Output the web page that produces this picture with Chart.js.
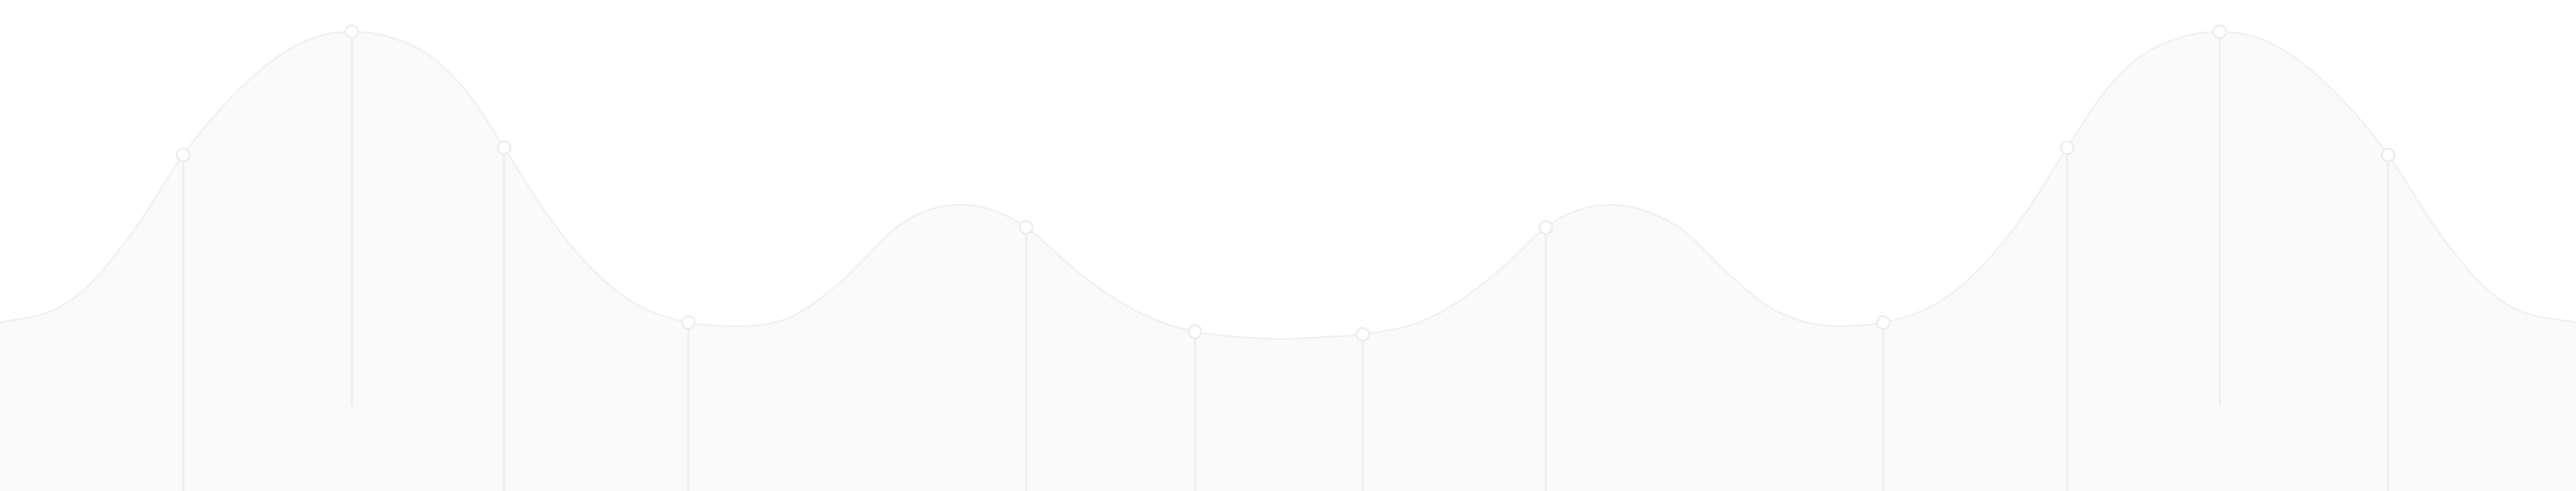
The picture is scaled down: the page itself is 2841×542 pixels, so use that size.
<!DOCTYPE html>
<html>
<head>
<meta charset="utf-8">
<script src="https://cdn.jsdelivr.net/npm/chart.js@4/dist/chart.umd.min.js"></script>
<style>
  html, body { margin: 0; padding: 0; background: #ffffff; }
  #wrap { width: 2841px; height: 542px; position: relative; }
</style>
</head>
<body>
<div id="wrap"><canvas id="waveChart"></canvas></div>
<script>
// x is % of width, y is % of height (no visible axes in the picture)
const curveX = [0, 2.11, 3.52, 5.28, 7.11, 8.80, 10.56, 12.14, 13.66, 15.14, 16.72, 18.20, 19.57,
  21.12, 22.88, 24.64, 26.72, 28.55, 30.62, 32.73, 34.88, 36.25, 37.45, 38.72, 39.84, 41.71,
  43.40, 45.12, 46.39, 48.05, 49.74, 51.39, 52.90, 55.09, 56.67, 58.43, 60.01, 61.25, 62.58,
  63.89, 65.33, 67.05, 68.74, 71.31, 73.11, 75.19, 76.94, 78.70, 80.25, 81.63, 83.10, 84.69,
  86.17, 87.68, 89.26, 91.02, 92.71, 94.54, 96.30, 97.71, 100];
const curveY = [34.32, 36.90, 42.25, 53.69, 68.45, 79.15, 87.64, 92.25, 93.54, 92.44, 88.56, 80.81, 69.93,
  57.20, 45.76, 38.19, 34.32, 33.58, 35.24, 42.99, 54.06, 57.56, 58.30, 56.83, 53.69, 45.20,
  38.75, 34.32, 32.47, 31.37, 31.00, 31.37, 31.92, 34.32, 38.75, 45.94, 53.69, 57.20, 58.30,
  57.01, 53.14, 44.46, 37.27, 33.58, 34.32, 38.19, 45.76, 57.20, 69.93, 80.81, 88.56, 92.44,
  93.54, 92.25, 87.64, 79.15, 68.45, 53.69, 42.25, 36.90, 34.32];

const markerX = [7.11, 13.66, 19.57, 26.72, 39.84, 46.39, 52.90, 60.01, 73.11, 80.25, 86.17, 92.71];
const markerY = [68.45, 93.54, 69.93, 34.32, 53.69, 32.47, 31.92, 53.69, 34.32, 69.93, 93.54, 68.45];

// how far each stem hangs below its marker
const stemDepth = 76.2;

new Chart(document.getElementById('waveChart'), {
  type: 'line',
  data: {
    datasets: [
      {
        type: 'line',
        order: 0,
        data: markerX.map((x, i) => ({ x: x, y: markerY[i] })),
        showLine: false,
        pointRadius: 7,
        pointBorderWidth: 2,
        pointBackgroundColor: '#ffffff',
        pointBorderColor: '#ededed'
      },
      {
        type: 'bar',
        order: 1,
        data: markerX.map((x, i) => ({ x: x, y: [markerY[i], markerY[i] - stemDepth] })),
        barThickness: 2,
        backgroundColor: '#f0f0f0',
        borderWidth: 0
      },
      {
        type: 'line',
        order: 2,
        data: curveX.map((x, i) => ({ x: x, y: curveY[i] })),
        cubicInterpolationMode: 'monotone',
        borderColor: '#f1f1f1',
        borderWidth: 2,
        backgroundColor: '#fafafa',
        fill: 'origin',
        pointRadius: 0
      }
    ]
  },
  options: {
    responsive: true,
    maintainAspectRatio: false,
    devicePixelRatio: 1,
    animation: false,
    layout: { padding: 0, autoPadding: false },
    plugins: { legend: { display: false }, tooltip: { enabled: false } },
    scales: {
      x: { type: 'linear', min: 0, max: 100, offset: false, display: false },
      y: { type: 'linear', min: 0, max: 100, display: false }
    }
  }
});
</script>
</body>
</html>
